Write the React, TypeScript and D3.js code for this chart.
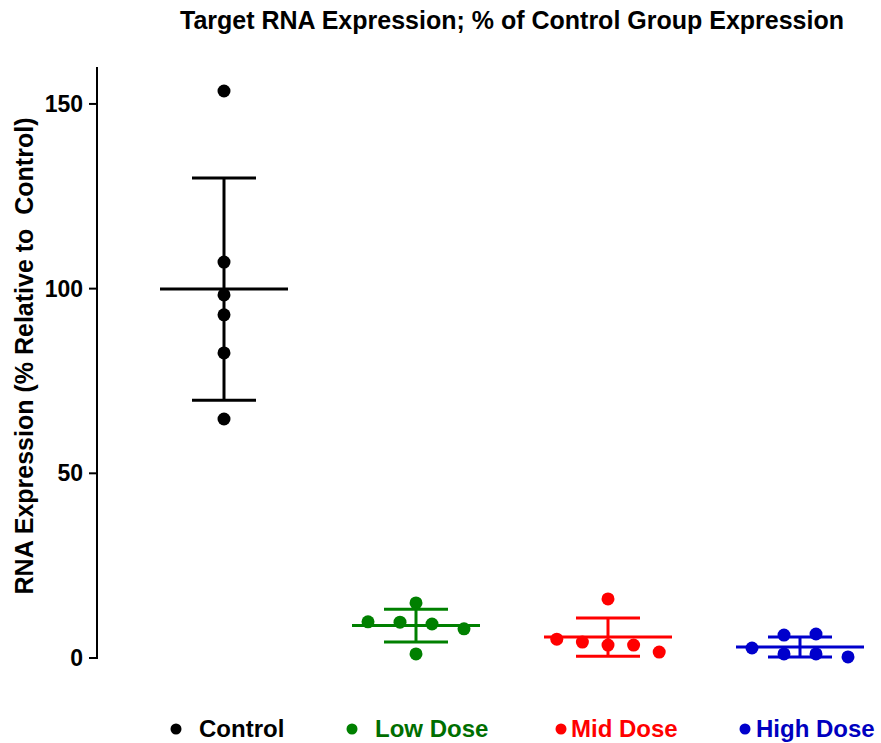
import * as d3 from "d3";
import React from "react";

const groups = ["Control", "Low Dose", "Mid Dose", "High Dose"];
const controlValues = [153.5, 107.2, 98.3, 92.9, 82.6, 64.7];
const lowValues = [9.8, 9.7, 14.9, 9.2, 7.9, 1.1];
const midValues = [5.1, 4.3, 16.0, 3.5, 3.5, 1.6];
const highValues = [2.7, 6.2, 6.5, 1.1, 1.1, 0.3];
const yTicks = [0, 50, 100, 150];

const seriesValues = [controlValues, lowValues, midValues, highValues];
const markColors = ["#000000", "#008000", "#ff0000", "#0000cc"];
const textColors = ["#000000", "#006e00", "#ff0000", "#0000c0"];

const W = 881;
const H = 743;
const FONT = "'Liberation Sans', Arial, Helvetica, sans-serif";

const y = d3.scaleLinear().domain([0, 160]).range([658, 67]);
const x = d3.scalePoint<string>().domain(groups).range([224, 800]);

const R = 6.5;

// prism-like scatter: bin points that overlap vertically, spread them sideways
function swarm(values: number[]) {
  const order = d3.range(values.length).sort((a, b) => y(values[a]) - y(values[b]));
  const bins: number[][] = [];
  let start = -Infinity;
  order.forEach((i) => {
    const py = y(values[i]);
    if (py - start > 13.5) {
      bins.push([i]);
      start = py;
    } else {
      bins[bins.length - 1].push(i);
    }
  });
  const offs = new Array(values.length).fill(0);
  bins.forEach((b) => {
    b.sort((p, q) => p - q);
    const n = b.length;
    const step = Math.min(32, 128 / n);
    b.forEach((i, k) => {
      offs[i] = (k - (n - 1) / 2) * step;
    });
  });
  return offs;
}

// legend placement
const legendDots = [176, 352, 561, 745];
const legendText = [199, 375, 571, 756];

export default function App() {
  const axisX = 97;
  return (
    <svg
      width={W}
      height={H}
      style={{ position: "absolute", left: 0, top: 0, background: "#fff" }}
      fontFamily={FONT}
    >
      <text x={512} y={29} textAnchor="middle" fontSize={25} fontWeight="bold">
        Target RNA Expression; % of Control Group Expression
      </text>

      {/* y axis */}
      <line x1={axisX} x2={axisX} y1={y(160)} y2={y(0) + 1} stroke="#000" strokeWidth={2} />
      {yTicks.map((t) => (
        <g key={t}>
          <line x1={axisX - 8} x2={axisX} y1={y(t)} y2={y(t)} stroke="#000" strokeWidth={2} />
          <text x={83} y={y(t) + 8} textAnchor="end" fontSize={23} fontWeight="bold">
            {t}
          </text>
        </g>
      ))}
      <text
        transform={`translate(33,${356}) rotate(-90)`}
        textAnchor="middle"
        fontSize={25}
        fontWeight="bold"
        style={{ whiteSpace: "pre" }}
      >
        {"RNA Expression (% Relative to  Control)"}
      </text>

      {/* groups */}
      {groups.map((g, gi) => {
        const vals = seriesValues[gi];
        const cx = x(g) as number;
        const m = d3.mean(vals) as number;
        const sd = d3.deviation(vals) as number;
        const offs = swarm(vals);
        const col = markColors[gi];
        return (
          <g key={g}>
            <line x1={cx} x2={cx} y1={y(m + sd)} y2={y(Math.max(m - sd, 0))} stroke={col} strokeWidth={3} />
            <line x1={cx - 32} x2={cx + 32} y1={y(m + sd)} y2={y(m + sd)} stroke={col} strokeWidth={3} />
            <line x1={cx - 32} x2={cx + 32} y1={y(m - sd)} y2={y(m - sd)} stroke={col} strokeWidth={3} />
            <line x1={cx - 64} x2={cx + 64} y1={y(m)} y2={y(m)} stroke={col} strokeWidth={3} />
            {vals.map((v, i) => (
              <circle key={i} cx={cx + offs[i]} cy={y(v)} r={R} fill={col} />
            ))}
          </g>
        );
      })}

      {/* legend */}
      {groups.map((g, gi) => (
        <g key={g}>
          <circle cx={legendDots[gi]} cy={729} r={5.5} fill={markColors[gi]} />
          <text x={legendText[gi]} y={737} fontSize={24} fontWeight="bold" fill={textColors[gi]}>
            {g}
          </text>
        </g>
      ))}
    </svg>
  );
}
